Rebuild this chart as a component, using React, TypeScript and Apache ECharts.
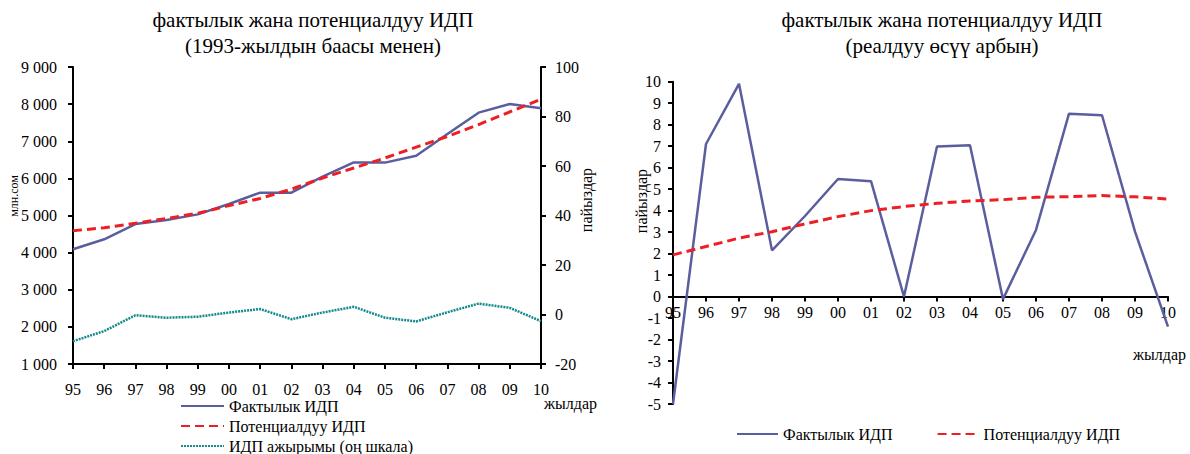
import React, { useEffect, useRef } from "react";
import * as echarts from "echarts";

const years = ["95", "96", "97", "98", "99", "00", "01", "02", "03", "04", "05", "06", "07", "08", "09", "10"];
const actualGdp = [4090, 4360, 4770, 4880, 5030, 5310, 5615, 5615, 6050, 6430, 6425, 6610, 7195, 7770, 8005, 7890];
const potentialGdp = [4590, 4670, 4790, 4920, 5060, 5265, 5460, 5710, 6010, 6280, 6550, 6840, 7130, 7450, 7790, 8130];
const gdpGap = [-10.8, -6.7, -0.3, -1.3, -0.9, 0.8, 2.2, -1.9, 0.8, 3.1, -1.3, -2.8, 0.9, 4.4, 2.7, -2.7];
const actualGrowth = [-5, 7.1, 9.9, 2.15, 3.75, 5.47, 5.37, 0, 6.98, 7.04, -0.12, 3.1, 8.51, 8.44, 3.02, -1.4];
const potentialGrowth = [1.94, 2.33, 2.72, 3.02, 3.38, 3.72, 4.0, 4.19, 4.34, 4.45, 4.51, 4.62, 4.65, 4.7, 4.64, 4.54];

const names = {
  actual: "Фактылык ИДП",
  potential: "Потенциалдуу ИДП",
  gap: "ИДП ажырымы (оң шкала)",
};

const FONT = "Liberation Serif";
const BLUE = "#5A5E9E";
const RED = "#EE1F24";
const TEAL = "#138A8C";
const CLEAR = "rgba(0,0,0,0)";

const axisLine = { show: true, onZero: false, lineStyle: { color: "#000", width: 2 } };
const axisTick = { show: true, inside: false, length: 5, lineStyle: { color: "#000", width: 2 } };
const lbl = (margin: number, size = 16) => ({ color: "#000", fontFamily: FONT, fontSize: size, margin });
const fmtThousands = (v: number) => String(v).replace(/\B(?=(\d{3})+(?!\d))/g, " ");

export default function App() {
  const ref = useRef<HTMLDivElement>(null);
  useEffect(() => {
    document.body.style.margin = "0";
    if (!ref.current) return;
    const chart = echarts.init(ref.current, undefined, { renderer: "svg" });
    const titleStyle = { fontSize: 21, lineHeight: 26, fontWeight: "normal" as const, fontFamily: FONT, color: "#000" };
    const legendText = { fontFamily: FONT, fontSize: 16, lineHeight: 16, color: "#000" };
    chart.setOption({
      animation: false,
      backgroundColor: "#fff",
      textStyle: { fontFamily: FONT },
      title: [
        { text: "фактылык жана потенциалдуу ИДП\n(1993-жылдын баасы менен)", left: 313, top: 7, padding: 0, textAlign: "center", textStyle: titleStyle },
        { text: "фактылык жана потенциалдуу ИДП\n(реалдуу өсүү арбын)", left: 942, top: 7, padding: 0, textAlign: "center", textStyle: titleStyle },
      ],
      legend: [
        {
          orient: "vertical",
          left: 180,
          top: 398,
          padding: 0,
          height: 60,
          itemWidth: 43,
          itemHeight: 14,
          itemGap: 4,
          itemStyle: { opacity: 0 },
          data: [names.actual, names.potential, names.gap].map((n) => ({ name: n })),
          textStyle: legendText,
        },
        {
          orient: "horizontal",
          left: 736,
          top: 426,
          padding: 0,
          itemWidth: 41,
          itemHeight: 14,
          itemGap: 40,
          itemStyle: { opacity: 0 },
          data: [{ name: names.actual + " " }, { name: names.potential + " " }],
          textStyle: legendText,
        },
      ],
      grid: [
        { left: 73, top: 67, width: 468, height: 297 },
        { left: 673, top: 81.7, width: 495, height: 322.3 },
      ],
      xAxis: [
        {
          type: "category",
          gridIndex: 0,
          data: years,
          boundaryGap: false,
          axisLine,
          axisTick: { ...axisTick, alignWithLabel: true },
          axisLabel: { ...lbl(17), interval: 0 },
        },
        {
          type: "category",
          gridIndex: 1,
          data: years,
          boundaryGap: false,
          position: "bottom",
          offset: -107.45,
          axisLine,
          axisTick: { ...axisTick, alignWithLabel: true },
          axisLabel: { ...lbl(8), interval: 0 },
        },
      ],
      yAxis: [
        {
          type: "value",
          gridIndex: 0,
          min: 1000,
          max: 9000,
          interval: 1000,
          axisLine,
          axisTick,
          splitLine: { show: false },
          axisLabel: { ...lbl(16), formatter: fmtThousands },
        },
        {
          type: "value",
          gridIndex: 0,
          position: "right",
          min: -20,
          max: 100,
          interval: 20,
          axisLine,
          axisTick,
          splitLine: { show: false },
          axisLabel: lbl(14),
        },
        {
          type: "value",
          gridIndex: 1,
          min: -5,
          max: 10,
          interval: 1,
          axisLine,
          axisTick,
          splitLine: { show: false },
          axisLabel: lbl(12),
        },
      ],
      graphic: [
        { type: "text", x: 14, y: 196, rotation: Math.PI / 2, style: { text: "млн.сом", fontSize: 12, fontFamily: FONT, fill: "#000", align: "center", verticalAlign: "middle" } },
        { type: "text", x: 586, y: 200, rotation: Math.PI / 2, style: { text: "пайыздар", fontSize: 16, fontFamily: FONT, fill: "#000", align: "center", verticalAlign: "middle" } },
        { type: "text", x: 641, y: 201, rotation: Math.PI / 2, style: { text: "пайыздар", fontSize: 16, fontFamily: FONT, fill: "#000", align: "center", verticalAlign: "middle" } },
        { type: "text", x: 544, y: 403, style: { text: "жылдар", fontSize: 16, fontFamily: FONT, fill: "#000", align: "left", verticalAlign: "middle" } },
        { type: "text", x: 1133, y: 354, style: { text: "жылдар", fontSize: 16, fontFamily: FONT, fill: "#000", align: "left", verticalAlign: "middle" } },
      ],
      series: [
        { name: names.actual, type: "line", xAxisIndex: 0, yAxisIndex: 0, data: actualGdp, symbol: "none", lineStyle: { color: BLUE, width: 2.5 }, itemStyle: { color: CLEAR } },
        { name: names.potential, type: "line", xAxisIndex: 0, yAxisIndex: 0, data: potentialGdp, symbol: "none", lineStyle: { color: RED, width: 3, type: [9, 5] }, itemStyle: { color: CLEAR } },
        { name: names.gap, type: "line", xAxisIndex: 0, yAxisIndex: 1, data: gdpGap, symbol: "none", lineStyle: { color: TEAL, width: 2.5, type: [2, 1] }, itemStyle: { color: CLEAR } },
        { name: names.actual + " ", type: "line", xAxisIndex: 1, yAxisIndex: 2, data: actualGrowth, symbol: "none", lineStyle: { color: BLUE, width: 2.5 }, itemStyle: { color: CLEAR } },
        { name: names.potential + " ", type: "line", xAxisIndex: 1, yAxisIndex: 2, data: potentialGrowth, symbol: "none", lineStyle: { color: RED, width: 3, type: [9, 5] }, itemStyle: { color: CLEAR } },
      ],
    });
    return () => chart.dispose();
  }, []);
  return <div ref={ref} style={{ width: 1190, height: 454 }} />;
}
